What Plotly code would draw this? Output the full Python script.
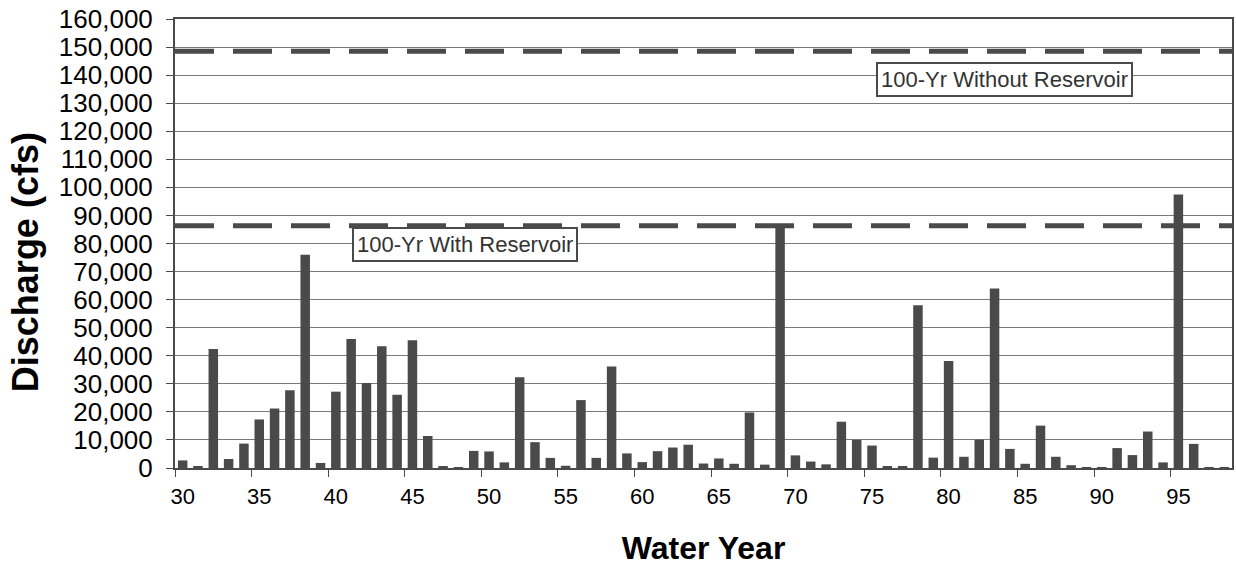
import plotly.graph_objects as go

# === Data ===
years = list(range(1930, 1999))
discharge = [
    2700, 500, 42400, 3200, 8700, 17300, 21200, 27700, 76000, 1800,   # 1930-39
    27200, 46000, 30300, 43400, 26100, 45500, 11400, 700, 200, 6100,  # 1940-49
    5900, 2000, 32300, 9200, 3600, 800, 24200, 3600, 36200, 5200,     # 1950-59
    2100, 6000, 7300, 8300, 1600, 3400, 1500, 19800, 1200, 85500,     # 1960-69
    4500, 2300, 1300, 16500, 10000, 8000, 600, 400, 58000, 3700,      # 1970-79
    38100, 4000, 10100, 64000, 6800, 1500, 15100, 4000, 1000, 200,    # 1980-89
    200, 7100, 4600, 13000, 2000, 97500, 8600, 300, 300,              # 1990-98
]
flood_without = 148500
flood_with = 86300
label_without = "100-Yr Without Reservoir"
label_with = "100-Yr With Reservoir"
tick_years = list(range(1930, 1999, 5))
tick_text = [str(y)[2:] for y in tick_years]
y_ticks = list(range(0, 160001, 10000))

ink = "#4a4a4a"
font_family = "Liberation Sans, Arial"
x_lo, x_hi = years[0] - 0.5, years[-1] + 0.5

fig = go.Figure()

fig.add_trace(go.Bar(x=years, y=discharge, marker_color=ink, marker_line_width=0))

# 100-year flood levels
for level in (flood_without, flood_with):
    fig.add_trace(go.Scatter(
        x=[x_lo, x_hi], y=[level, level], mode="lines",
        line=dict(color=ink, width=5, dash="39px,19px"),
    ))

box = dict(showarrow=False, bordercolor=ink, borderwidth=2, borderpad=3,
           bgcolor="white", font=dict(family=font_family, size=22, color="#333"))
fig.add_annotation(x=1983.64, y=138600, text=label_without, **box)
fig.add_annotation(x=1948.46, y=79800, text=label_with, **box)

# y title sits a little below the plot centre in the original
fig.add_annotation(
    xref="paper", yref="paper", x=-0.1407, y=0.459, textangle=-90,
    xanchor="center", yanchor="middle",
    text="<b>Discharge (cfs)</b>", showarrow=False,
    font=dict(family=font_family, size=36, color="black"),
)

fig.update_layout(
    width=1236, height=570,
    margin=dict(l=175, r=2, t=19, b=102),
    paper_bgcolor="white", plot_bgcolor="white",
    showlegend=False, bargap=0.38,
    font=dict(family=font_family, color="black"),
)
fig.update_xaxes(
    range=[x_lo, x_hi], tickvals=tick_years, ticktext=tick_text,
    ticks="", tickfont=dict(size=22), ticklabelstandoff=8,
    minor=dict(tickvals=[y - 0.5 for y in tick_years], ticks="outside",
               ticklen=7, tickcolor=ink, showgrid=False),
    showline=True, linecolor=ink, linewidth=2, mirror=True,
    showgrid=False, zeroline=False,
    title=dict(text="<b>Water Year</b>", font=dict(size=32), standoff=28),
)
fig.update_yaxes(
    range=[0, 160000], tickvals=y_ticks, tickformat=",d",
    ticks="outside", ticklen=7, tickcolor=ink, tickfont=dict(size=26),
    ticklabelstandoff=8,
    showline=True, linecolor=ink, linewidth=2, mirror=True,
    showgrid=True, gridcolor="#7a7a7a", gridwidth=1, zeroline=False,
)

fig.write_html("out.html", config={"displayModeBar": False},
               post_script="document.body.style.margin='0';")
